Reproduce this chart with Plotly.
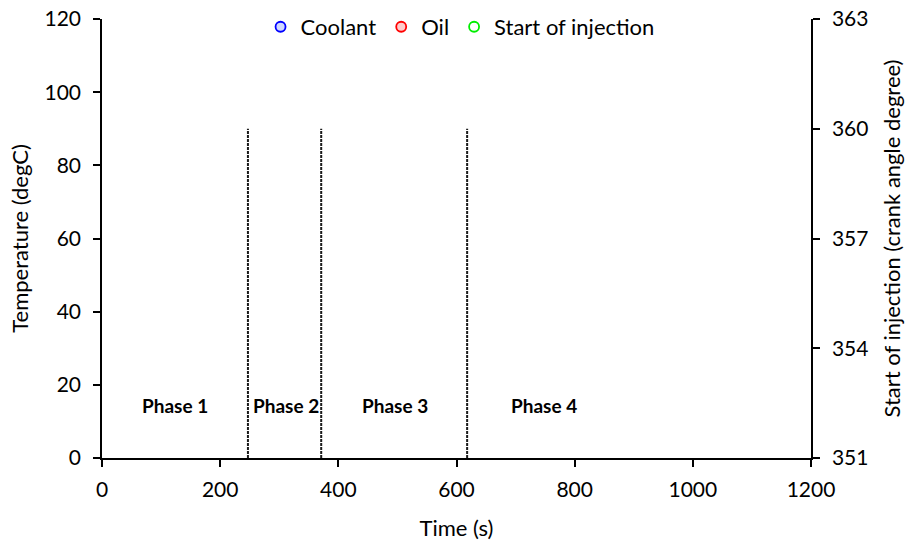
import plotly.graph_objects as go

# Measured series (no samples logged in this run)
time_coolant = []
coolant_temp = []
time_oil = []
oil_temp = []
time_soi = []
soi_cad = []

# Phase boundaries (s) and the height of the boundary markers (degC)
phase_boundaries = [247, 371, 618]
boundary_top = 90

# Phase labels and where they sit
phase_names = ["Phase 1", "Phase 2", "Phase 3", "Phase 4"]
phase_label_x = [124, 311, 496, 748]
phase_label_y = 14.4

x_ticks = [0, 200, 400, 600, 800, 1000, 1200]
y_ticks = [0, 20, 40, 60, 80, 100, 120]
y2_ticks = [351, 354, 357, 360, 363]

FONT = "Lato"


def pts(values):
    # keep an empty series in the legend
    return values if len(values) else [None]


fig = go.Figure()

fig.add_trace(go.Scatter(
    x=pts(time_coolant), y=pts(coolant_temp), name="Coolant", mode="markers",
    marker=dict(symbol="circle", size=10, color="rgba(190,200,255,0.7)",
                line=dict(color="#0000ff", width=1.8)),
))
fig.add_trace(go.Scatter(
    x=pts(time_oil), y=pts(oil_temp), name="Oil", mode="markers",
    marker=dict(symbol="circle", size=10, color="rgba(255,190,190,0.8)",
                line=dict(color="#ff0000", width=1.8)),
))
fig.add_trace(go.Scatter(
    x=pts(time_soi), y=pts(soi_cad), name="Start of injection", mode="markers",
    yaxis="y2",
    marker=dict(symbol="circle", size=10, color="rgba(255,255,255,1)",
                line=dict(color="#00ee00", width=1.8)),
))

# Vertical dashed boundaries between phases
for xb in phase_boundaries:
    fig.add_trace(go.Scatter(
        x=[xb, xb], y=[0, boundary_top], mode="lines", showlegend=False,
        hoverinfo="skip",
        line=dict(color="#1a1a1a", width=2, dash="3px,1px"),
    ))

for name, xl in zip(phase_names, phase_label_x):
    fig.add_annotation(
        x=xl, y=phase_label_y, text="<b>" + name + "</b>", showarrow=False,
        font=dict(family=FONT, size=19, color="#000"),
    )

axis_common = dict(
    showgrid=False, zeroline=False, showline=True, linecolor="#000",
    linewidth=1.5, ticks="outside", ticklen=7, tickwidth=1.5, tickcolor="#000",
    tickfont=dict(family=FONT, size=21, color="#000"), automargin=False,
)

fig.update_layout(
    width=906, height=541,
    margin=dict(l=102, r=95, t=19, b=83, autoexpand=False),
    paper_bgcolor="white", plot_bgcolor="white",
    font=dict(family=FONT, color="#000"),
    xaxis=dict(range=[0, 1200], tickvals=x_ticks, ticklabelstandoff=5,
               title=dict(text="Time (s)", font=dict(family=FONT, size=22), standoff=22),
               **axis_common),
    yaxis=dict(range=[0, 120], tickvals=y_ticks, ticklabelstandoff=8,
               title=dict(text="Temperature (degC)", font=dict(family=FONT, size=22), standoff=10),
               **axis_common),
    yaxis2=dict(range=[351, 363], tickvals=y2_ticks, overlaying="y", side="right",
                ticklabelstandoff=8,
                title=dict(text="Start of injection (crank angle degree)",
                           font=dict(family=FONT, size=22), standoff=17),
                **axis_common),
    legend=dict(orientation="h", x=0.505, xanchor="center",
                yref="container", y=0.989, yanchor="top",
                font=dict(family=FONT, size=22), bgcolor="rgba(0,0,0,0)",
                itemwidth=30, tracegroupgap=0),
    showlegend=True,
)

fig.write_html("out.html")
